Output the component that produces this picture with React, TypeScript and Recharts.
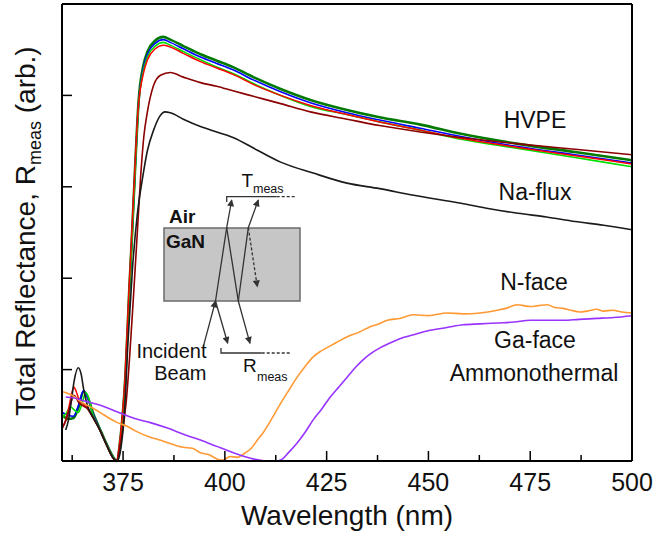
import { LineChart, Line, XAxis, YAxis } from 'recharts'

document.body.style.margin = '0'

type Pt = [number, number]

// x ticks every 12.5 nm, labels only on the 25 nm ones
const ticksX = [362.5, 375, 387.5, 400, 412.5, 425, 437.5, 450, 462.5, 475, 487.5, 500]
const ticksY = [1, 2, 3, 4]

// HVPE samples
const hvpeDarkGreen: Pt[] = [
  [360.1, 0.5], [361.5, 0.46], [362.8, 0.47], [364, 0.58], [365.3, 0.76], [366.3, 0.7], [367.5, 0.54],
  [369.4, 0.34], [371, 0.18], [372.6, 0.04], [373.4, 0], [374.4, 0.27], [375.6, 0.95], [376.5, 1.85],
  [377.2, 2.48], [378, 3.25], [378.8, 3.93], [380, 4.33], [381, 4.48], [382.9, 4.6], [384.9, 4.64],
  [386.6, 4.61], [389.8, 4.54], [394, 4.45], [398, 4.38], [402, 4.31], [407, 4.2], [413.7, 4.07],
  [421, 3.95], [430, 3.84], [438, 3.76], [448, 3.68], [458, 3.58], [472, 3.47], [486, 3.38], [500, 3.29],
]
const hvpeBlue: Pt[] = [
  [360.1, 0.53], [361.5, 0.5], [362.8, 0.49], [364, 0.6], [365.3, 0.77], [366.3, 0.69], [367.5, 0.53],
  [369.4, 0.34], [371, 0.18], [372.6, 0.04], [373.5, 0], [374.4, 0.25], [375.6, 0.93], [376.5, 1.82],
  [377.2, 2.45], [378, 3.22], [378.8, 3.9], [380, 4.3], [381, 4.45], [382.9, 4.57], [384.9, 4.61],
  [386.6, 4.58], [389.8, 4.51], [394, 4.42], [398, 4.35], [402, 4.28], [407, 4.17], [413.7, 4.04],
  [421, 3.92], [430, 3.81], [438, 3.73], [448, 3.64], [458, 3.55], [472, 3.44], [486, 3.35], [500, 3.26],
]
const hvpeLime: Pt[] = [
  [360.1, 0.48], [361, 0.52], [362.1, 0.59], [363, 0.56], [364, 0.53], [365, 0.64], [365.8, 0.75],
  [366.6, 0.68], [367.4, 0.53], [369.4, 0.34], [371, 0.18], [372.6, 0.04], [373.5, 0], [374.4, 0.24],
  [375.6, 0.92], [376.5, 1.8], [377.2, 2.42], [378, 3.2], [378.8, 3.88], [380, 4.27], [381, 4.42],
  [382.9, 4.54], [384.9, 4.58], [386.6, 4.55], [389.8, 4.48], [394, 4.39], [398, 4.31], [402, 4.24],
  [407, 4.13], [413.7, 4.0], [421, 3.88], [430, 3.79], [438, 3.71], [448, 3.62], [458, 3.52], [472, 3.42],
  [486, 3.32], [500, 3.22],
]
const hvpeRed: Pt[] = [
  [360.1, 0.37], [361, 0.46], [361.7, 0.59], [362.4, 0.74], [362.9, 0.81], [363.5, 0.76], [364.1, 0.68],
  [365.3, 0.62], [366.3, 0.58], [367.5, 0.49], [369.4, 0.33], [371, 0.17], [372.6, 0.03], [373.3, 0],
  [374.3, 0.25], [375.5, 0.93], [376.4, 1.82], [377.1, 2.45], [377.9, 3.2], [378.7, 3.85], [380, 4.24],
  [381, 4.39], [382.9, 4.51], [384.9, 4.55], [386.6, 4.53], [389.8, 4.46], [394, 4.37], [398, 4.3],
  [402, 4.23], [407, 4.12], [413.7, 4.0], [421, 3.89], [430, 3.79], [438, 3.71], [448, 3.62], [458, 3.53],
  [472, 3.43], [486, 3.34], [500, 3.25],
]
const hvpeMaroon: Pt[] = [
  [360.1, 0.36], [361, 0.45], [361.7, 0.55], [362.4, 0.67], [362.9, 0.72], [363.5, 0.69], [364.1, 0.64],
  [365.3, 0.6], [366.3, 0.57], [367.5, 0.48], [369.4, 0.33], [371, 0.17], [372.6, 0.03], [373.4, 0],
  [374.4, 0.2], [375.8, 0.66], [376.7, 1.2], [377.5, 1.76], [378.5, 2.5], [379.3, 3.1], [380.1, 3.55],
  [380.9, 3.8], [382.5, 4.11], [384.2, 4.22], [386.6, 4.25], [389.8, 4.2], [394, 4.14], [398, 4.1],
  [402, 4.05], [407, 3.99], [413.7, 3.91], [421, 3.82], [430, 3.74], [438, 3.67], [448, 3.6], [458, 3.54],
  [472, 3.47], [486, 3.41], [500, 3.35],
]
// Na-flux
const naFlux: Pt[] = [
  [360.9, 0.34], [361.6, 0.45], [362.3, 0.66], [363, 0.88], [364, 1.02], [364.7, 0.95], [365.3, 0.79],
  [366.3, 0.6], [367.5, 0.49], [369.4, 0.33], [371, 0.17], [372.6, 0.03], [373.6, 0], [374.5, 0.15],
  [375.3, 0.5], [376.2, 1.3], [377.3, 2.1], [378.5, 2.7], [379.8, 3.1], [381, 3.4], [382.5, 3.62],
  [384, 3.77], [385.3, 3.82], [386.6, 3.81], [389.8, 3.74], [394, 3.66], [398, 3.6], [402, 3.54],
  [408, 3.4], [413.7, 3.27], [421.7, 3.15], [430, 3.04], [438, 2.98], [446, 2.91], [458, 2.82],
  [465, 2.76], [472, 2.71], [479, 2.67], [486, 2.62], [493, 2.58], [500, 2.53],
]
// Ammonothermal
const nFace: Pt[] = [
  [360, 0.76], [362, 0.73], [365.3, 0.63], [367.5, 0.58], [369.4, 0.53], [371.5, 0.47], [373.6, 0.42],
  [376, 0.38], [378, 0.33], [381.7, 0.26], [384, 0.23], [386, 0.2], [389.8, 0.15], [392, 0.14], [394, 0.09],
  [396, 0.07], [398.2, 0.02], [399.5, 0.01], [401.3, 0.05], [403.1, 0.04], [405, 0.09], [406.5, 0.14],
  [408, 0.23], [409.4, 0.31], [411.5, 0.46], [413.7, 0.63], [415.8, 0.78], [417.8, 0.92], [419.8, 1.04],
  [421.7, 1.14], [423.5, 1.2], [425.1, 1.24], [427.5, 1.3], [430.1, 1.36], [433, 1.41], [435.7, 1.47],
  [437.8, 1.5], [439.9, 1.54], [443, 1.56], [446.3, 1.6], [450, 1.59], [454.6, 1.62], [458.5, 1.61],
  [462.7, 1.62], [466.9, 1.65], [469, 1.67], [471.8, 1.71], [475, 1.69], [477, 1.7], [479.2, 1.71],
  [481, 1.68], [483.1, 1.67], [485, 1.65], [487.2, 1.63], [489, 1.64], [491.4, 1.66], [493, 1.64],
  [495.3, 1.65], [497.5, 1.63], [500, 1.62],
]
const gaFace: Pt[] = [
  [360.9, 0.7], [363, 0.69], [365.3, 0.66], [369.4, 0.61], [373.5, 0.54], [377.5, 0.47], [381.7, 0.42],
  [385.9, 0.36], [390, 0.29], [394, 0.23], [398, 0.16], [402.1, 0.09], [404, 0.06], [406.3, 0.03],
  [408.5, 0.01], [410, 0], [412.6, 0], [413.7, 0.01], [415.8, 0.1], [417.8, 0.2], [419.8, 0.32],
  [421.7, 0.45], [423.8, 0.57], [425.9, 0.7], [428, 0.81], [430.1, 0.92], [432, 1.02], [434, 1.11],
  [436, 1.18], [438.2, 1.24], [441, 1.3], [443.8, 1.35], [447, 1.39], [450.4, 1.43], [454.5, 1.46],
  [458.5, 1.49], [462.7, 1.5], [466.9, 1.51], [471, 1.52], [475, 1.54], [479, 1.54], [483.1, 1.54],
  [487, 1.55], [491.4, 1.56], [495.5, 1.57], [500, 1.59],
]

const series = [
  { name: 'hvpe-dg', pts: hvpeDarkGreen, color: '#007a00', width: 2.6 },
  { name: 'hvpe-blue', pts: hvpeBlue, color: '#0000ff', width: 1.6 },
  { name: 'hvpe-lime', pts: hvpeLime, color: '#00e000', width: 1.6 },
  { name: 'hvpe-red', pts: hvpeRed, color: '#ff0000', width: 1.5 },
  { name: 'hvpe-maroon', pts: hvpeMaroon, color: '#8b0000', width: 1.6 },
  { name: 'na-flux', pts: naFlux, color: '#1a1a1a', width: 1.6 },
  { name: 'n-face', pts: nFace, color: '#ff9933', width: 1.6 },
  { name: 'ga-face', pts: gaFace, color: '#9933ff', width: 1.6 },
]

const toRows = (pts: Pt[]) => pts.map(([x, y]) => ({ x, y }))

const FONT = '"Liberation Sans", Arial, sans-serif'

function BottomTick(props: any) {
  const { x, y, payload } = props
  const major = payload.value % 25 === 0
  return (
    <g>
      <line x1={x} x2={x} y1={y} y2={y - (major ? 10 : 6)} stroke="#000" strokeWidth={1.5} />
      {major && (
        <text x={x} y={y + 30} textAnchor="middle" fontSize={25} fontFamily={FONT} fill="#111">
          {payload.value}
        </text>
      )}
    </g>
  )
}

function TopTick(props: any) {
  const { x, y, payload } = props
  const major = payload.value % 25 === 0
  return <line x1={x} x2={x} y1={y} y2={y + (major ? 10 : 6)} stroke="#000" strokeWidth={1.5} />
}

function LeftTick(props: any) {
  const { x, y } = props
  return <line x1={x} x2={x + 10} y1={y} y2={y} stroke="#000" strokeWidth={1.5} />
}

function RightTick(props: any) {
  const { x, y } = props
  return <line x1={x} x2={x - 10} y1={y} y2={y} stroke="#000" strokeWidth={1.5} />
}

const textStyle = { fontFamily: FONT, fill: '#111' }

function Overlay() {
  const ink = '#333'
  return (
    <svg width={655} height={537} style={{ position: 'absolute', left: 0, top: 0, pointerEvents: 'none' }}>
      <defs>
        <marker id="arr" viewBox="0 0 10 10" refX="9" refY="5" markerWidth="9" markerHeight="7"
          markerUnits="userSpaceOnUse" orient="auto">
          <path d="M0,0 L10,5 L0,10 z" fill={ink} />
        </marker>
      </defs>

      {/* axis titles */}
      <text x={347} y={525} textAnchor="middle" fontSize={28} style={textStyle}>Wavelength (nm)</text>
      <text transform="translate(35,231) rotate(-90)" textAnchor="middle" fontSize={28} style={textStyle}>
        Total Reflectance, R
        <tspan fontSize={18} dy={6}>meas</tspan>
        <tspan dy={-6}> (arb.)</tspan>
      </text>

      {/* sample labels */}
      <g fontSize={23} textAnchor="middle" style={textStyle}>
        <text x={535} y={128}>HVPE</text>
        <text x={535} y={200}>Na-flux</text>
        <text x={534} y={290}>N-face</text>
        <text x={535} y={348}>Ga-face</text>
        <text x={534} y={381}>Ammonothermal</text>
      </g>

      {/* inset sketch */}
      <rect x={164} y={228} width={136} height={73} fill="#c6c6c6" stroke="#6b6b6b" strokeWidth={1.5} />
      <text x={169} y={223} fontSize={19} fontWeight="bold" style={textStyle}>Air</text>
      <text x={166} y={248} fontSize={19} fontWeight="bold" style={textStyle}>GaN</text>

      <g stroke={ink} strokeWidth={1.3} fill="none">
        <line x1={203.3} y1={346.7} x2={215.5} y2={301} markerEnd="url(#arr)" />
        <polyline points="215.5,301 226.7,227.7 231.7,200" markerEnd="url(#arr)" />
        <line x1={215.5} y1={301} x2={227.7} y2={343.3} markerEnd="url(#arr)" />
        <polyline points="226.7,227.7 238.3,301 250,343.3" markerEnd="url(#arr)" />
        <polyline points="238.3,301 248.3,227.7 258.3,200" markerEnd="url(#arr)" />
        <line x1={248.3} y1={227.7} x2={257.3} y2={286.7} strokeDasharray="3 2" markerEnd="url(#arr)" />
        <path d="M226.7 202 V196.7 H276.7" />
        <line x1={276.7} y1={196.7} x2={295} y2={196.7} strokeDasharray="3 2" />
        <path d="M221 348 V353 H261.7" />
        <line x1={261.7} y1={353} x2={290} y2={353} strokeDasharray="3 2" />
      </g>

      <text x={241.5} y={187} fontSize={19} style={textStyle}>T</text>
      <text x={253} y={193} fontSize={12.5} style={textStyle}>meas</text>
      <text x={243} y={371.5} fontSize={19} style={textStyle}>R</text>
      <text x={257} y={381} fontSize={12.5} style={textStyle}>meas</text>

      <g fontSize={20} textAnchor="end" style={textStyle}>
        <text x={206.5} y={358}>Incident</text>
        <text x={206.5} y={380}>Beam</text>
      </g>
    </svg>
  )
}

const axisLine = { stroke: '#000', strokeWidth: 2 }

export default function App() {
  return (
    <div style={{ position: 'relative', width: 655, height: 537, background: '#fff' }}>
      <LineChart width={655} height={537} margin={{ top: 3, right: 22, bottom: 36, left: 61 }}>
        <XAxis
          xAxisId="b"
          dataKey="x"
          type="number"
          domain={[360, 500]}
          ticks={ticksX}
          interval={0}
          height={40}
          tickSize={0}
          tickMargin={0}
          tick={BottomTick}
          axisLine={axisLine}
        />
        <XAxis
          xAxisId="t"
          orientation="top"
          dataKey="x"
          type="number"
          domain={[360, 500]}
          ticks={ticksX}
          interval={0}
          height={1}
          tickSize={0}
          tickMargin={0}
          tick={TopTick}
          axisLine={axisLine}
        />
        <YAxis
          yAxisId="l"
          type="number"
          domain={[0, 5]}
          ticks={ticksY}
          interval={0}
          width={1}
          tickSize={0}
          tickMargin={0}
          tick={LeftTick}
          axisLine={axisLine}
        />
        <YAxis
          yAxisId="r"
          orientation="right"
          type="number"
          domain={[0, 5]}
          ticks={ticksY}
          interval={0}
          width={1}
          tickSize={0}
          tickMargin={0}
          tick={RightTick}
          axisLine={axisLine}
        />
        {series.map((s) => (
          <Line
            key={s.name}
            xAxisId="b"
            yAxisId="l"
            data={toRows(s.pts)}
            dataKey="y"
            type="monotone"
            stroke={s.color}
            strokeWidth={s.width}
            dot={false}
            activeDot={false}
            isAnimationActive={false}
          />
        ))}
      </LineChart>
      <Overlay />
    </div>
  )
}
